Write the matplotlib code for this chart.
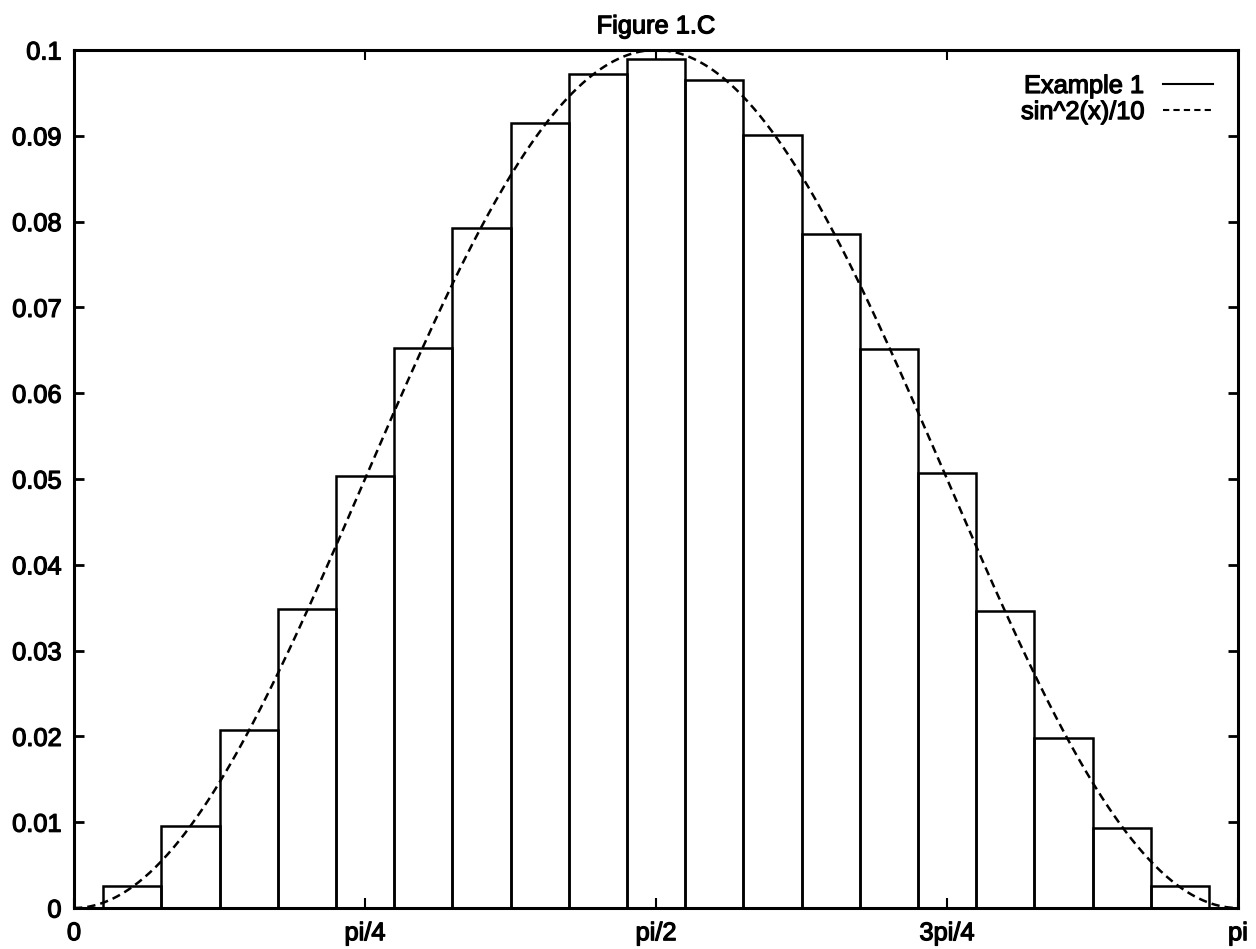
import numpy as np
import matplotlib
matplotlib.use("Agg")
import matplotlib.pyplot as plt
from matplotlib.lines import Line2D
import matplotlib.patheffects as pe

plt.rcParams['font.family'] = ['Liberation Sans', 'DejaVu Sans']
plt.rcParams['lines.scale_dashes'] = False

# ---- data ----
bin_index = [1, 2, 3, 4, 5, 6, 7, 8, 9, 10, 11, 12, 13, 14, 15, 16, 17, 18, 19]
bin_width = np.pi / 20
hist_values = [0.0026, 0.0096, 0.0207, 0.0349, 0.0503, 0.0653, 0.0792, 0.0915, 0.0972,
               0.0990, 0.0965, 0.0901, 0.0785, 0.0651, 0.0507, 0.0346, 0.0198, 0.0093, 0.0026]
xtick_pos = [0, np.pi / 4, np.pi / 2, 3 * np.pi / 4, np.pi]
xtick_labels = ["0", "pi/4", "pi/2", "3pi/4", "pi"]
ytick_pos = [0, 0.01, 0.02, 0.03, 0.04, 0.05, 0.06, 0.07, 0.08, 0.09, 0.1]
ytick_labels = ["0", "0.01", "0.02", "0.03", "0.04", "0.05", "0.06", "0.07", "0.08", "0.09", "0.1"]
title = "Figure 1.C"
labels = ["Example 1", "sin^2(x)/10"]

W, H = 1256, 949
fig = plt.figure(figsize=(W / 100, H / 100), dpi=100)
left, right, bottom, top = 74, 1238, 908, 50
ax = fig.add_axes([left / W, 1 - bottom / H, (right - left) / W, (bottom - top) / H])

centers = np.array(bin_index) * bin_width
ax.bar(centers, hist_values, width=bin_width, fill=False, edgecolor='black',
       linewidth=1.8, align='center', zorder=2)

xs = np.linspace(0, np.pi, 600)
ax.plot(xs, np.sin(xs) ** 2 / 10, color='black', linewidth=1.8,
        dashes=(6, 3.6), zorder=3)

ax.set_xlim(0, np.pi)
ax.set_ylim(0, 0.1)
ax.set_xticks(xtick_pos)
ax.set_xticklabels(xtick_labels)
ax.set_yticks(ytick_pos)
ax.set_yticklabels(ytick_labels)

fs = 18.3
thick = [pe.withStroke(linewidth=0.9, foreground='black')]
ax.tick_params(direction='in', length=7.5, top=True, right=True,
               labelsize=fs, colors='black')
ax.tick_params(axis='x', pad=9.5, width=1.5)
ax.tick_params(axis='y', pad=9, width=2)
for lab in ax.get_xticklabels() + ax.get_yticklabels():
    lab.set_path_effects(thick)
for s in ax.spines.values():
    s.set_linewidth(2.2)

t = ax.set_title(title, fontsize=fs, pad=12)
t.set_path_effects(thick)

handles = [Line2D([], [], color='black', linewidth=1.5),
           Line2D([], [], color='black', linewidth=1.5, dashes=(4.5, 3))]
leg = ax.legend(handles, labels, loc='upper right', frameon=False, markerfirst=False,
                prop={'size': fs}, handlelength=1.95,
                handletextpad=0.75, labelspacing=0.08, borderpad=0, borderaxespad=0,
                bbox_to_anchor=((1213 - left) / (right - left), 1 - (74 - top) / (bottom - top)))
for txt in leg.get_texts():
    txt.set_path_effects(thick)

fig.savefig("out.png", dpi=100)
